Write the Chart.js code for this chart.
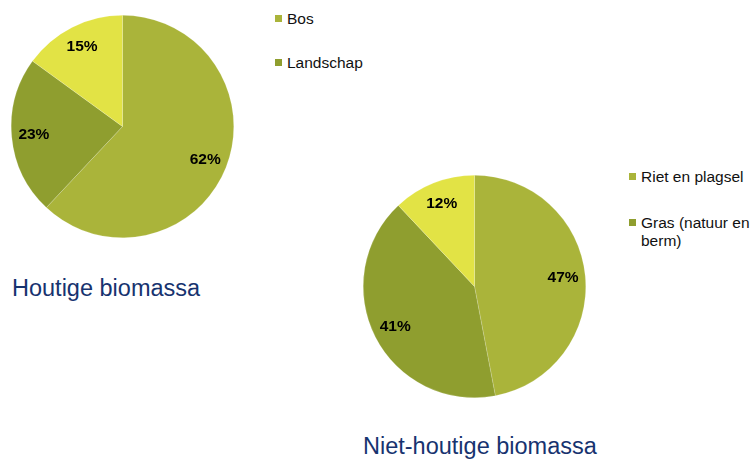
<!DOCTYPE html>
<html>
<head>
<meta charset="utf-8">
<script src="https://cdn.jsdelivr.net/npm/chart.js@4"></script>
<style>
  html, body {
    margin: 0;
    padding: 0;
    background: #ffffff;
  }
  body {
    width: 755px;
    height: 461px;
    position: relative;
    overflow: hidden;
    font-family: "Liberation Sans", Arial, sans-serif;
  }
  .pie {
    position: absolute;
    width: 223px;
    height: 223px;
  }
  .title {
    position: absolute;
    font-size: 23.5px;
    line-height: 1;
    color: #17336f;
    white-space: nowrap;
  }
  .legend {
    position: absolute;
    font-size: 15.5px;
    line-height: 18px;
    color: #111111;
  }
  .legend .item {
    position: relative;
    padding-left: 12px;
    margin-bottom: 26px;
    white-space: nowrap;
  }
  #nietHoutLegend .item {
    margin-bottom: 28px;
  }
  .legend .box {
    position: absolute;
    left: 0;
    top: 5px;
    width: 7px;
    height: 7px;
  }
</style>
</head>
<body>

<div class="pie" style="left:11px; top:15px;"><canvas id="houtChart"></canvas></div>
<div class="pie" style="left:363px; top:175px;"><canvas id="nietHoutChart"></canvas></div>

<div class="legend" id="houtLegend" style="left:275px; top:10px;"></div>
<div class="legend" id="nietHoutLegend" style="left:629px; top:168px;"></div>

<div class="title" style="left:12px; top:277px;">Houtige biomassa</div>
<div class="title" style="left:363px; top:435px;">Niet-houtige biomassa</div>

<script>
// data
const houtLabels = ["Bos", "Landschap", "Overig"];
const houtValues = [62, 23, 15];

const nietHoutLabels = ["Riet en plagsel", "Gras (natuur en<br>berm)", "Overig"];
const nietHoutValues = [47, 41, 12];

// only first two are in the legend of the original
const legendCount = 2;

const sliceColors = ["#aab43a", "#8f9e2f", "#e2e345"];

// percentage labels inside slices
const pctLabels = {
  id: "pctLabels",
  afterDatasetsDraw(chart) {
    const ctx = chart.ctx;
    const meta = chart.getDatasetMeta(0);
    const values = chart.data.datasets[0].data;
    ctx.save();
    ctx.font = "bold 15.5px 'Liberation Sans', Arial, sans-serif";
    ctx.fillStyle = "#000000";
    ctx.textAlign = "center";
    ctx.textBaseline = "middle";
    meta.data.forEach((arc, i) => {
      const p = arc.getProps(["x", "y", "startAngle", "endAngle", "outerRadius"], true);
      const mid = (p.startAngle + p.endAngle) / 2;
      const r = p.outerRadius * 0.8;
      ctx.fillText(values[i] + "%", p.x + Math.cos(mid) * r, p.y + Math.sin(mid) * r);
    });
    ctx.restore();
  },
};

function makePie(canvasId, labels, values) {
  const el = document.getElementById(canvasId);
  return new Chart(el, {
    type: "pie",
    data: {
      labels: labels,
      datasets: [
        {
          data: values,
          backgroundColor: sliceColors,
          borderColor: "rgba(255,255,255,0.35)",
          borderWidth: 0.5,
        },
      ],
    },
    options: {
      responsive: true,
      maintainAspectRatio: false,
      animation: false,
      layout: { padding: 0 },
      plugins: {
        legend: { display: false },
        tooltip: { enabled: false },
      },
    },
    plugins: [pctLabels],
  });
}

function makeLegend(legendId, labels) {
  const box = document.getElementById(legendId);
  labels.slice(0, legendCount).forEach((lbl, i) => {
    const item = document.createElement("div");
    item.className = "item";
    item.innerHTML = `<span class="box" style="background:${sliceColors[i]}"></span>${lbl}`;
    box.appendChild(item);
  });
}

makePie("houtChart", houtLabels, houtValues);
makePie("nietHoutChart", nietHoutLabels, nietHoutValues);

makeLegend("houtLegend", houtLabels);
makeLegend("nietHoutLegend", nietHoutLabels);
</script>
</body>
</html>
